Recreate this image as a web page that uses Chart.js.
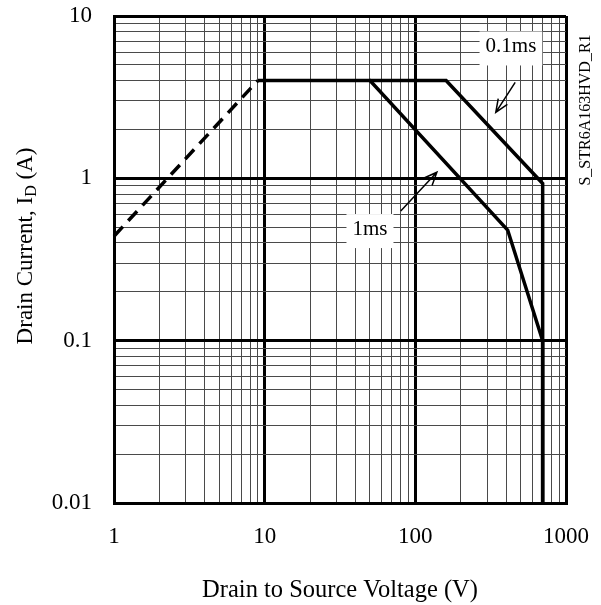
<!DOCTYPE html>
<html>
<head>
<meta charset="utf-8">
<script src="https://cdn.jsdelivr.net/npm/chart.js@4.4.1/dist/chart.umd.min.js"></script>
<style>
  html, body { margin: 0; padding: 0; background: #fff; }
  #wrap { width: 601px; height: 605px; }
</style>
</head>
<body>
<div id="wrap"><canvas id="soa"></canvas></div>
<script>
// safe operating area curves
const dcLimitV = [1, 9];
const dcLimitI = [0.44, 4];
const ms1V = [9, 50, 410, 700, 700];
const ms1I = [4, 4, 0.48, 0.1, 0.01];
const ms01V = [50, 160, 700, 700];
const ms01I = [4, 4, 0.93, 0.01];

const xTickLabels = [1, 10, 100, 1000];
const yTickLabels = [0.01, 0.1, 1, 10];

// annotation labels and arrows in data coords
const notes = [
  { text: "0.1ms", at: [431, 6.4], from: [460, 3.9], to: [342, 2.55] },
  { text: "1ms", at: [50, 0.48], from: [80, 0.63], to: [139, 1.09] }
];

const FONT = '"Liberation Serif", "Times New Roman", serif';

function decadeTicks(lo, hi) {
  const out = [];
  for (let e = Math.log10(lo); e < Math.log10(hi); e++) {
    for (let k = 1; k < 10; k++) out.push(Number((k * Math.pow(10, e)).toPrecision(3)));
  }
  out.push(hi);
  return out;
}
function isDecade(v) {
  const l = Math.log10(v);
  return Math.abs(l - Math.round(l)) < 1e-6;
}
function pts(xs, ys) {
  return xs.map((x, i) => ({ x: x, y: ys[i] }));
}
function noPad(s) {
  s.paddingTop = 0; s.paddingBottom = 0; s.paddingLeft = 0; s.paddingRight = 0;
}

const gridOpts = {
  color: (c) => isDecade(c.tick.value) ? "#000" : "#4a4a4a",
  lineWidth: (c) => isDecade(c.tick.value) ? 3 : 1,
  drawTicks: false
};

const notesPlugin = {
  id: "notes",
  afterDatasetsDraw(chart) {
    const ctx = chart.ctx;
    const xs = chart.scales.x, ys = chart.scales.y;
    ctx.save();
    ctx.font = "21px " + FONT;
    notes.forEach((n) => {
      const cx = xs.getPixelForValue(n.at[0]);
      const cy = ys.getPixelForValue(n.at[1]);
      const w = ctx.measureText(n.text).width + 12;
      ctx.fillStyle = "#fff";
      ctx.fillRect(cx - w / 2, cy - 16, w, 34);
      ctx.fillStyle = "#000";
      ctx.textAlign = "center";
      ctx.textBaseline = "middle";
      ctx.fillText(n.text, cx, cy - 1);

      const x1 = xs.getPixelForValue(n.from[0]), y1 = ys.getPixelForValue(n.from[1]);
      const x2 = xs.getPixelForValue(n.to[0]), y2 = ys.getPixelForValue(n.to[1]);
      const a = Math.atan2(y2 - y1, x2 - x1);
      ctx.strokeStyle = "#000";
      ctx.lineWidth = 1.5;
      ctx.beginPath();
      ctx.moveTo(x1, y1);
      ctx.lineTo(x2, y2);
      ctx.moveTo(x2 - 14 * Math.cos(a - 0.4), y2 - 14 * Math.sin(a - 0.4));
      ctx.lineTo(x2, y2);
      ctx.lineTo(x2 - 14 * Math.cos(a + 0.4), y2 - 14 * Math.sin(a + 0.4));
      ctx.stroke();
    });

    // y axis title with subscript
    ctx.translate(26, 246);
    ctx.rotate(-Math.PI / 2);
    ctx.textBaseline = "middle";
    ctx.textAlign = "left";
    const p1 = "Drain Current, I", sub = "D", p2 = " (A)";
    ctx.font = "23px " + FONT;
    const w1 = ctx.measureText(p1).width, w3 = ctx.measureText(p2).width;
    ctx.font = "16px " + FONT;
    const w2 = ctx.measureText(sub).width;
    const x0 = -(w1 + w2 + w3) / 2;
    ctx.font = "23px " + FONT;
    ctx.fillText(p1, x0, 0);
    ctx.font = "16px " + FONT;
    ctx.fillText(sub, x0 + w1, 6);
    ctx.font = "23px " + FONT;
    ctx.fillText(p2, x0 + w1 + w2, 0);
    ctx.restore();

    // part number on the right
    ctx.save();
    ctx.translate(586, 110);
    ctx.rotate(-Math.PI / 2);
    ctx.font = "16px " + FONT;
    ctx.fillStyle = "#000";
    ctx.textAlign = "center";
    ctx.textBaseline = "middle";
    ctx.fillText("S_STR6A163HVD_R1", 0, 0);
    ctx.restore();
  }
};

new Chart(document.getElementById("soa"), {
  type: "scatter",
  data: {
    datasets: [
      { data: pts(dcLimitV, dcLimitI), borderDash: [13, 8] },
      { data: pts(ms1V, ms1I) },
      { data: pts(ms01V, ms01I) }
    ].map((d) => Object.assign({
      showLine: true,
      borderColor: "#000",
      borderWidth: 3.5,
      pointRadius: 0,
      clip: false
    }, d))
  },
  options: {
    responsive: true,
    maintainAspectRatio: false,
    animation: false,
    events: [],
    layout: { padding: { top: 16, right: 35, left: 0, bottom: 0 } },
    plugins: { legend: { display: false }, tooltip: { enabled: false } },
    scales: {
      x: {
        type: "logarithmic",
        min: 1,
        max: 1000,
        afterBuildTicks: (s) => { s.ticks = decadeTicks(1, 1000).map((v) => ({ value: v })); },
        afterFit: (s) => { s.height = 102; noPad(s); },
        grid: gridOpts,
        border: { color: "#000", width: 3 },
        ticks: {
          autoSkip: false,
          maxRotation: 0,
          padding: 20,
          color: "#000",
          font: { family: FONT, size: 23 },
          callback: (v) => xTickLabels.includes(v) ? String(v) : ""
        },
        title: {
          display: true,
          text: "Drain to Source Voltage (V)",
          color: "#000",
          font: { family: FONT, size: 24.5 },
          padding: { top: 0, bottom: 0 }
        }
      },
      y: {
        type: "logarithmic",
        min: 0.01,
        max: 10,
        afterBuildTicks: (s) => { s.ticks = decadeTicks(0.01, 10).map((v) => ({ value: v })); },
        afterFit: (s) => { s.width = 114; noPad(s); },
        grid: gridOpts,
        border: { color: "#000", width: 3 },
        ticks: {
          autoSkip: false,
          padding: 22,
          color: "#000",
          font: { family: FONT, size: 23 },
          callback: (v) => yTickLabels.some((t) => Math.abs(t - v) < 1e-9) ? String(v) : ""
        }
      }
    }
  },
  plugins: [notesPlugin]
});
</script>
</body>
</html>
